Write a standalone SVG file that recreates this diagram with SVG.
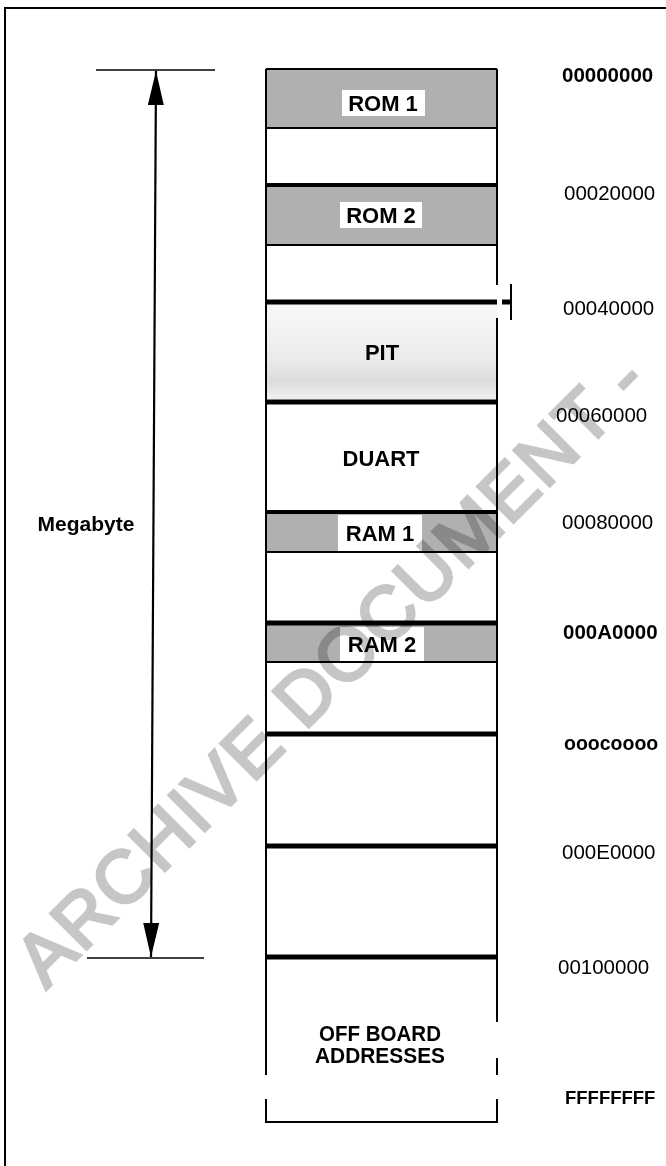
<svg xmlns="http://www.w3.org/2000/svg" width="666" height="1166" viewBox="0 0 666 1166">
  <defs>
    <style>
      .t { font-family: "Liberation Sans", Arial, sans-serif; fill: #000; }
      .b { font-weight: bold; }
      .lbl { font-family: "Liberation Sans", Arial, sans-serif; font-weight: bold; font-size: 22px; text-anchor: middle; }
      .addr { font-family: "Liberation Sans", Arial, sans-serif; font-size: 20.5px; }
      .thick { stroke: #000; stroke-width: 5; }
      .thin { stroke: #000; stroke-width: 2; }
      .side { stroke: #000; stroke-width: 2; fill: none; }
      .gray { fill: #b0b0b0; }
      .box { fill: #fff; }
    </style>
    <linearGradient id="pitg" x1="0" y1="0" x2="0" y2="1">
      <stop offset="0" stop-color="#f8f8f8"/>
      <stop offset="0.6" stop-color="#eaeaea"/>
      <stop offset="0.8" stop-color="#dcdcdc"/>
      <stop offset="1" stop-color="#f0f0f0"/>
    </linearGradient>
    <marker id="ah" viewBox="0 0 34 16" refX="34" refY="8" markerWidth="34" markerHeight="16" markerUnits="userSpaceOnUse" orient="auto-start-reverse">
      <path d="M34 8 L0 0 L0 16 Z" fill="#000"/>
    </marker>
  </defs>
  <rect width="666" height="1166" fill="#fff"/>
  <!-- frame -->
  <path d="M5 1166 V8 H666" fill="none" stroke="#000" stroke-width="2"/>

  <!-- memory column -->
  <g id="rom1">
    <rect x="266" y="69" width="231" height="59" class="gray"/>
    <rect x="342" y="90" width="83" height="26" class="box"/>
    <text x="383" y="111" class="lbl">ROM 1</text>
  </g>
  <g id="gap1"><rect x="266" y="128" width="231" height="57" fill="#fff"/></g>
  <g id="rom2">
    <rect x="266" y="186" width="231" height="59" class="gray"/>
    <rect x="340" y="202" width="82" height="26" class="box"/>
    <text x="381" y="223" class="lbl">ROM 2</text>
  </g>
  <g id="pit">
    <rect x="266" y="304" width="231" height="95" fill="url(#pitg)"/>
    <text x="382" y="360" class="lbl">PIT</text>
  </g>
  <g id="duart">
    <rect x="266" y="404" width="231" height="108" fill="#fff"/>
    <text x="381" y="466" class="lbl">DUART</text>
  </g>
  <g id="ram1">
    <rect x="266" y="513" width="231" height="39" class="gray"/>
    <rect x="338" y="515" width="84" height="36" class="box"/>
    <text x="380" y="541" class="lbl">RAM 1</text>
  </g>
  <g id="ram2">
    <rect x="266" y="624" width="231" height="38" class="gray"/>
    <rect x="340" y="627" width="84" height="34" class="box"/>
    <text x="382" y="652" class="lbl">RAM 2</text>
  </g>
  <g id="offboard">
    <text x="380" y="1041" class="lbl" textLength="122" lengthAdjust="spacingAndGlyphs">OFF  BOARD</text>
    <text x="380" y="1063" class="lbl" textLength="130" lengthAdjust="spacingAndGlyphs">ADDRESSES</text>
  </g>

  <!-- column outlines and dividers -->
  <g id="connectors">
    <line x1="266" y1="69" x2="497" y2="69" class="thin"/>
    <line x1="266" y1="128" x2="497" y2="128" class="thin"/>
    <line x1="266" y1="185" x2="497" y2="185" class="thick" style="stroke-width:4"/>
    <line x1="266" y1="245" x2="497" y2="245" class="thin"/>
    <line x1="266" y1="302" x2="497" y2="302" class="thick"/>
    <line x1="502" y1="302" x2="511" y2="302" class="thick"/>
    <line x1="511" y1="284" x2="511" y2="320" class="thin"/>
    <line x1="266" y1="402" x2="497" y2="402" class="thick"/>
    <line x1="266" y1="512" x2="497" y2="512" class="thick" style="stroke-width:4"/>
    <line x1="266" y1="552" x2="497" y2="552" class="thin"/>
    <line x1="266" y1="623" x2="497" y2="623" class="thick"/>
    <line x1="266" y1="662" x2="497" y2="662" class="thin"/>
    <line x1="266" y1="734" x2="497" y2="734" class="thick"/>
    <line x1="266" y1="846" x2="497" y2="846" class="thick"/>
    <line x1="266" y1="957" x2="497" y2="957" class="thick"/>
    <!-- sides -->
    <line x1="266" y1="69" x2="266" y2="1075" class="side"/>
    <line x1="497" y1="69" x2="497" y2="285" class="side"/>
    <line x1="497" y1="318" x2="497" y2="1022" class="side"/>
    <line x1="497" y1="1058" x2="497" y2="1075" class="side"/>
    <path d="M266 1099 V1122 H497 V1099" class="side"/>

    <!-- megabyte dimension -->
    <line x1="96" y1="70" x2="215" y2="70" stroke="#000" stroke-width="1.5"/>
    <line x1="87" y1="958" x2="204" y2="958" stroke="#000" stroke-width="1.5"/>
    <line x1="156" y1="71" x2="151" y2="957" stroke="#000" stroke-width="2.2" marker-start="url(#ah)" marker-end="url(#ah)"/>
  </g>

  <g id="megabyte">
    <text x="86" y="531" class="t b" font-size="21" text-anchor="middle">Megabyte</text>
  </g>

  <g id="addresses">
    <text x="562" y="82" class="addr b">00000000</text>
    <text x="564" y="200" class="addr">00020000</text>
    <text x="563" y="315" class="addr">00040000</text>
    <text x="556" y="422" class="addr">00060000</text>
    <text x="562" y="529" class="addr">00080000</text>
    <text x="563" y="639" class="addr b">000A0000</text>
    <text x="564" y="750" class="addr b" style="font-size:19.5px">ooocoooo</text>
    <text x="562" y="859" class="addr">000E0000</text>
    <text x="558" y="974" class="addr">00100000</text>
    <text x="565" y="1104" class="addr b" style="font-size:18.5px">FFFFFFFF</text>
  </g>

  <g id="watermark" style="mix-blend-mode: multiply">
    <text x="46" y="990" transform="rotate(-45 46 990)" font-family="Liberation Sans, Arial, sans-serif" font-size="74" fill="#c6c6c6" stroke="#c6c6c6" stroke-width="3" letter-spacing="2">ARCHIVE DOCUMENT -</text>
  </g>
</svg>
